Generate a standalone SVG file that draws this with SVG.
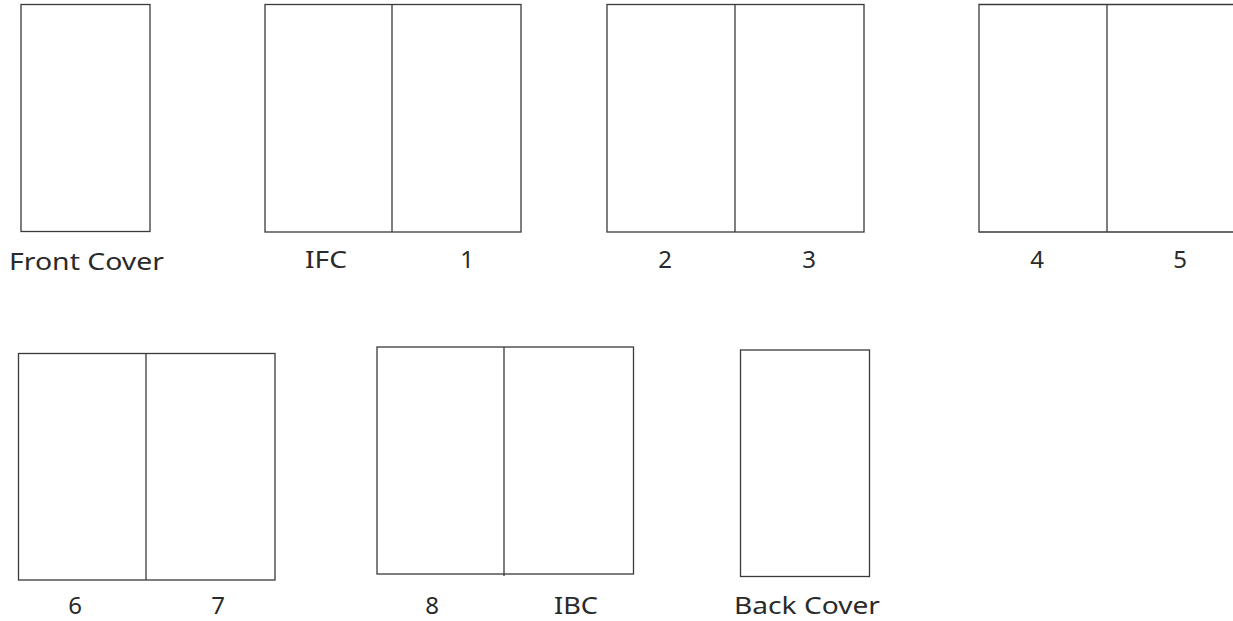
<svg xmlns="http://www.w3.org/2000/svg" width="1233" height="621" viewBox="0 0 1233 621">
<style>
.pg{fill:#fff;stroke:#3a3a3a;stroke-width:1.3}
.fold{stroke:#3a3a3a;stroke-width:1.3;fill:none}
.lb{font-family:"Noto Sans","DejaVu Sans",sans-serif;font-size:24px;fill:#2a2a2a;text-anchor:middle}
.lbs{font-family:"Noto Sans","DejaVu Sans",sans-serif;font-size:24px;fill:#2a2a2a}
</style>
<rect width="1233" height="621" fill="#fff"/>
<g id="front-cover">
<rect class="pg" x="21" y="4.5" width="129" height="227"/>
<text class="lbs" x="9" y="269.5" textLength="155" lengthAdjust="spacingAndGlyphs">Front Cover</text>
</g>
<g id="spread-ifc-1">
<rect class="pg" x="265" y="4.5" width="256" height="227.5"/>
<line class="fold" x1="392" y1="4.5" x2="392" y2="232"/>
<text class="lbs" x="305" y="268" textLength="42" lengthAdjust="spacingAndGlyphs">IFC</text>
<text class="lb" x="467" y="268">1</text>
</g>
<g id="spread-2-3">
<rect class="pg" x="607" y="4.5" width="257" height="227.5"/>
<line class="fold" x1="735" y1="4.5" x2="735" y2="232"/>
<text class="lb" x="665" y="268">2</text>
<text class="lb" x="809" y="268">3</text>
</g>
<g id="spread-4-5">
<path class="pg" d="M1240 4.5 H979 V232 H1240"/>
<line class="fold" x1="1107" y1="4.5" x2="1107" y2="232"/>
<text class="lb" x="1037" y="268">4</text>
<text class="lb" x="1180" y="268">5</text>
</g>
<g id="spread-6-7">
<rect class="pg" x="18.5" y="353.5" width="256.5" height="226.5"/>
<line class="fold" x1="146" y1="353.5" x2="146" y2="580"/>
<text class="lb" x="75" y="614">6</text>
<text class="lb" x="218" y="614">7</text>
</g>
<g id="spread-8-ibc">
<rect class="pg" x="377" y="347" width="256.5" height="227"/>
<line class="fold" x1="504" y1="347" x2="504" y2="576"/>
<text class="lb" x="432" y="614">8</text>
<text class="lbs" x="554" y="614" textLength="44" lengthAdjust="spacingAndGlyphs">IBC</text>
</g>
<g id="back-cover">
<rect class="pg" x="740.5" y="350" width="129" height="226.5"/>
<text class="lbs" x="734" y="614" textLength="146" lengthAdjust="spacingAndGlyphs">Back Cover</text>
</g>
<g id="connectors"></g>
</svg>
